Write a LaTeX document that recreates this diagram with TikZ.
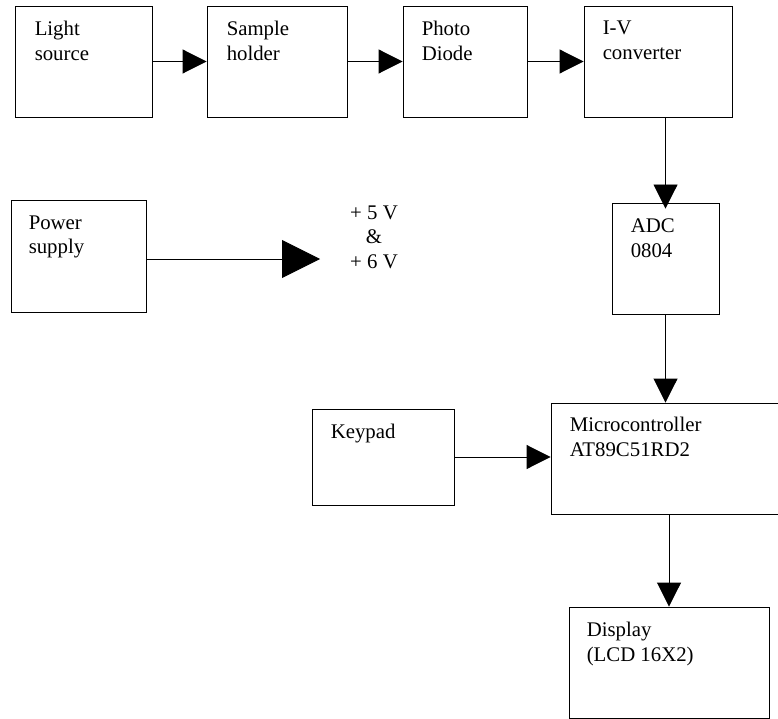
\documentclass[tikz,border=0pt]{standalone}
\usepackage{fontspec}
\setmainfont{Liberation Serif}
\usetikzlibrary{arrows.meta}
\begin{document}
\begin{tikzpicture}[x=1pt,y=-1pt,
  blk/.style={draw,line width=0.9pt,minimum height=111pt,inner sep=0pt},
  lbl/.style={anchor=north west,inner sep=0pt,align=left,font=\fontsize{20.8}{24.5}\selectfont},
  sig/.style={line width=0.9pt,-{Triangle[length=24pt,width=24pt]}},
  bigsig/.style={line width=0.9pt,-{Triangle[length=38pt,width=38pt]}}]
  \clip (0,0) rectangle (778,719);

  \node[blk,minimum width=137pt] (light) at (83.5,61.5) {};
  \node[blk,minimum width=140pt] (sample) at (277,61.5) {};
  \node[blk,minimum width=124pt] (photo) at (465,61.5) {};
  \node[blk,minimum width=148pt] (iv) at (658,61.5) {};
  \node[blk,minimum width=107pt] (adc) at (665.5,258.5) {};
  \node[blk,minimum width=135pt,minimum height=112pt] (power) at (78.5,256) {};
  \node[blk,minimum width=142pt,minimum height=96pt] (keypad) at (383,457) {};
  \node[blk,minimum width=230pt] (micro) at (666,458.5) {};
  \node[blk,minimum width=200pt] (display) at (669,662.5) {};

  \node[lbl] (lighttxt) at ([shift={(20,15.5)}]light.north west) {Light\\source};
  \node[lbl] (sampletxt) at ([shift={(20,15.5)}]sample.north west) {Sample\\holder};
  \node[lbl] (phototxt) at ([shift={(19,15.5)}]photo.north west) {Photo\\Diode};
  \node[lbl] (ivtxt) at ([shift={(19,15.5)}]iv.north west) {I-V\\converter};
  \node[lbl] (adctxt) at ([shift={(19,16)}]adc.north west) {ADC\\0804};
  \node[lbl] (powertxt) at ([shift={(18,16)}]power.north west) {Power\\supply};
  \node[lbl] (keypadtxt) at ([shift={(19,15.5)}]keypad.north west) {Keypad};
  \node[lbl] (microtxt) at ([shift={(19,14.5)}]micro.north west) {Microcontroller\\AT89C51RD2};
  \node[lbl] (displaytxt) at ([shift={(18,15.5)}]display.north west) {Display\\(LCD 16X2)};
  \node[align=center,inner sep=0pt,font=\fontsize{20.8}{24.5}\selectfont] (volts) at (374,237) {+ 5 V\\\&\\+ 6 V};

  \draw[sig] (light.east) -- (sample.west);
  \draw[sig] (sample.east) -- (photo.west);
  \draw[sig] (photo.east) -- (iv.west);
  \draw[sig] (iv.south -| adc.north) -- ([yshift=-6pt]adc.north);
  \draw[sig] (adc.south) -- (adc.south |- micro.north);
  \draw[sig] (keypad.east) -- (keypad.east -| micro.west);
  \draw[sig] (micro.south -| display.north) -- (display.north);
  \coordinate (vtip) at (320,259);
  \draw[bigsig] (power.east |- vtip) -- (vtip);
\end{tikzpicture}
\end{document}
